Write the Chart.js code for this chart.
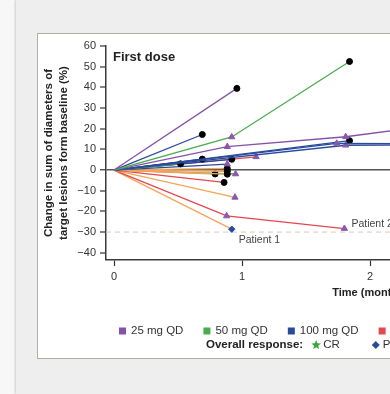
<!DOCTYPE html>
<html>
<head>
<meta charset="utf-8">
<script src="https://cdn.jsdelivr.net/npm/chart.js@4.4.1/dist/chart.umd.min.js"></script>
<style>
  html, body { margin: 0; padding: 0; width: 390px; height: 394px; overflow: hidden; background: #f7f7f7; }
  #backdrop { position: absolute; left: 16px; top: 0; width: 600px; height: 394px; background: #eeeeee; box-shadow: -1px 0 2px rgba(0,0,0,.18); }
  #panel { position: absolute; left: 37px; top: 33px; width: 700px; height: 324px; background: #fff; border: 1.5px solid #b3aea6; }
  #chart { position: absolute; left: 0; top: 0; }
</style>
</head>
<body>
<div id="backdrop"></div>
<div id="panel"></div>
<canvas id="chart" width="700" height="394"></canvas>
<script>
// ------- Data ---------------------------------------------------------------

const DOSE_LABELS = ['25 mg QD', '50 mg QD', '100 mg QD', '200 mg QD', '400 mg QD'];
const RESPONSES   = ['CR', 'PR', 'SD', 'PD'];

// one entry per patient: dose index, visit times (months), % change, response at each visit
const patientDose = [0, 1, 2, 0, 2, 2, 2, 1, 2, 2, 3, 2, 4, 4, 4, 4, 1, 3, 4, 3, 4];
const patientMonths = [
  [0, 0.96], [0, 0.92, 1.84], [0, 0.69], [0, 0.885, 1.81, 2.77],
  [0, 1.74, 2.75], [0, 1.81, 2.75], [0, 1.84], [0, 0.52],
  [0, 0.69], [0, 0.92], [0, 1.11], [0, 0.885],
  [0, 0.885], [0, 0.885], [0, 0.885], [0, 0.79],
  [0, 0.95], [0, 0.86], [0, 0.945], [0, 0.88, 1.80], [0, 0.92]
];
const patientChange = [
  [0, 39.5], [0, 16.0, 52.5], [0, 17.2], [0, 11.3, 16.1, 23.9],
  [0, 12.9, 12.6], [0, 12.0, 12.3], [0, 14.2], [0, 3.0],
  [0, 5.3], [0, 5.2], [0, 6.4], [0, 2.9],
  [0, 0.8], [0, -0.6], [0, -2.0], [0, -1.9],
  [0, -1.9], [0, -6.0], [0, -13.2], [0, -22.2, -28.3], [0, -28.6]
];
const patientResponse = [
  ['', 'PD'], ['', 'SD', 'PD'], ['', 'PD'], ['', 'SD', 'SD', 'SD'],
  ['', 'SD', 'SD'], ['', 'SD', 'SD'], ['', 'PD'], ['', 'PD'],
  ['', 'PD'], ['', 'PD'], ['', 'SD'], ['', 'SD'],
  ['', 'PD'], ['', 'PD'], ['', 'PD'], ['', 'PD'],
  ['', 'SD'], ['', 'PD'], ['', 'SD'], ['', 'SD', 'SD'], ['', 'PR']
];
const patientNote = ['', '', '', '', '', '', '', '', '', '', '', '', '', '', '', '', '', '', '', 'Patient 2', 'Patient 1'];

const X_TICKS = [0, 1, 2, 3, 4];
const Y_TICKS = [-40, -30, -20, -10, 0, 10, 20, 30, 40, 50, 60];
const THRESHOLD = -30;

const Y_TITLE = ['Change in sum of diameters of', 'target lesions form baseline (%)'];
const X_TITLE = 'Time (months)';
const FIRST_DOSE = 'First dose';
const RESPONSE_TITLE = 'Overall response:';

// ------- Styles -------------------------------------------------------------

const FONT = '"Liberation Sans", Arial, Helvetica, sans-serif';
const DOSE_COLORS = ['#8652a9', '#48ad4a', '#2a4a9c', '#e4474e', '#f2a458'];
const MARK = {
  CR: { style: 'star',     color: '#3aa53a', r: 4.5 },
  PR: { style: 'rectRot',  color: '#2a4a9c', r: 3.2 },
  SD: { style: 'triangle', color: '#8a58ad', r: 3.6 },
  PD: { style: 'circle',   color: '#000000', r: 3.0 }
};
const NOTE_OFFSET = { 'Patient 1': [7, 11], 'Patient 2': [7, -4] };

Chart.defaults.font.family = FONT;
Chart.defaults.color = '#333';

// ------- Datasets -----------------------------------------------------------

const datasets = patientMonths.map((months, i) => {
  const marks = patientResponse[i];
  const col = r => (r ? MARK[r].color : 'rgba(0,0,0,0)');
  return {
    data: months.map((m, j) => ({ x: m, y: patientChange[i][j] })),
    showLine: true,
    borderColor: DOSE_COLORS[patientDose[i]],
    borderWidth: 1.3,
    pointStyle: marks.map(r => (r ? MARK[r].style : 'circle')),
    pointRadius: marks.map(r => (r ? MARK[r].r : 0)),
    pointBackgroundColor: marks.map(col),
    pointBorderColor: marks.map(col),
    pointBorderWidth: 1,
    order: 0
  };
});

datasets.push({
  data: [{ x: -0.0625, y: THRESHOLD }, { x: 4.0625, y: THRESHOLD }],
  showLine: true,
  borderColor: '#d9c8ba',
  borderWidth: 1,
  borderDash: [5, 4],
  pointRadius: 0,
  order: 1
});

// ------- Text, legend -------------------------------------------------------

function drawMark (ctx, type, cx, cy) {
  const m = MARK[type];
  ctx.fillStyle = m.color;
  ctx.beginPath();
  if (type === 'CR') {
    for (let k = 0; k < 10; k++) {
      const a = -Math.PI / 2 + k * Math.PI / 5;
      const rr = k % 2 ? 2.2 : 5;
      ctx.lineTo(cx + rr * Math.cos(a), cy + rr * Math.sin(a));
    }
  } else if (type === 'PR') {
    ctx.moveTo(cx, cy - 4); ctx.lineTo(cx + 4, cy); ctx.lineTo(cx, cy + 4); ctx.lineTo(cx - 4, cy);
  } else if (type === 'SD') {
    ctx.moveTo(cx, cy - 4); ctx.lineTo(cx + 4.2, cy + 3); ctx.lineTo(cx - 4.2, cy + 3);
  } else {
    ctx.arc(cx, cy, 3.5, 0, Math.PI * 2);
  }
  ctx.closePath();
  ctx.fill();
}

const overlay = {
  id: 'overlay',
  afterDraw (chart) {
    const { ctx, chartArea, scales: { x, y } } = chart;
    ctx.save();
    ctx.textAlign = 'left';
    ctx.textBaseline = 'middle';

    ctx.font = `bold 13px ${FONT}`;
    ctx.fillStyle = '#222';
    ctx.fillText(FIRST_DOSE, x.getPixelForValue(0) - 1, chartArea.top + 11);

    ctx.font = `10.5px ${FONT}`;
    ctx.fillStyle = '#444';
    patientNote.forEach((note, i) => {
      if (!note) return;
      const last = patientMonths[i].length - 1;
      const [dx, dy] = NOTE_OFFSET[note];
      ctx.fillText(note,
        x.getPixelForValue(patientMonths[i][last]) + dx,
        y.getPixelForValue(patientChange[i][last]) + dy);
    });

    // dose legend
    const row1 = chartArea.bottom + 71;
    let lx = chartArea.left + 13;
    ctx.font = `11.5px ${FONT}`;
    DOSE_LABELS.forEach((lab, i) => {
      ctx.fillStyle = DOSE_COLORS[i];
      ctx.fillRect(lx, row1 - 3.5, 7, 7);
      ctx.fillStyle = '#333';
      ctx.fillText(lab, lx + 12, row1);
      lx += 12 + ctx.measureText(lab).width + 20;
    });

    // response legend
    const row2 = row1 + 14;
    ctx.font = `bold 11.5px ${FONT}`;
    ctx.fillStyle = '#222';
    let rx = chartArea.left + 100;
    ctx.fillText(RESPONSE_TITLE, rx, row2);
    rx += ctx.measureText(RESPONSE_TITLE).width + 13;
    ctx.font = `11.5px ${FONT}`;
    RESPONSES.forEach(r => {
      drawMark(ctx, r, rx, row2);
      ctx.fillStyle = '#333';
      ctx.fillText(r, rx + 7, row2);
      rx += 7 + ctx.measureText(r).width + 36;
    });
    ctx.restore();
  }
};

// ------- Chart --------------------------------------------------------------

new Chart(document.getElementById('chart'), {
  type: 'scatter',
  data: { datasets },
  options: {
    responsive: false,
    animation: false,
    devicePixelRatio: 1,
    events: [],
    layout: { padding: { left: 0, top: 46, right: 66, bottom: 94 } },
    plugins: { legend: { display: false }, tooltip: { enabled: false } },
    scales: {
      x: {
        type: 'linear',
        min: -0.0625,
        max: 4.0625,
        afterBuildTicks: s => { s.ticks = X_TICKS.map(v => ({ value: v })); },
        afterFit: s => { s.height = 40; },
        grid: { drawOnChartArea: false, drawTicks: true, tickLength: 6, tickWidth: 1.2, tickColor: '#333', color: '#333' },
        border: { display: true, color: '#3a3a3a', width: 1.5 },
        ticks: { padding: 4, maxRotation: 0, color: '#333', font: { size: 11 } },
        title: { display: true, text: X_TITLE, color: '#222', padding: 0, font: { size: 11, weight: 'bold' } }
      },
      y: {
        type: 'linear',
        min: -43.5,
        max: 60,
        afterBuildTicks: s => { s.ticks = Y_TICKS.map(v => ({ value: v })); },
        afterFit: s => { s.width = 106; },
        grid: {
          drawOnChartArea: true,
          drawTicks: true,
          tickLength: 6,
          tickWidth: 1.2,
          tickColor: '#333',
          color: c => (c.tick && c.tick.value === 0 ? '#555' : 'rgba(0,0,0,0)'),
          lineWidth: c => (c.tick && c.tick.value === 0 ? 1.5 : 0)
        },
        border: { display: true, color: '#3a3a3a', width: 1.5 },
        ticks: {
          padding: 4,
          color: '#333',
          font: { size: 11 },
          callback: v => (v < 0 ? '\u2212' + Math.abs(v) : String(v))
        },
        title: {
          display: true,
          text: Y_TITLE,
          color: '#222',
          padding: { top: 41.5, bottom: 0 },
          font: { size: 11.5, weight: 'bold', lineHeight: 1.3 }
        }
      }
    }
  },
  plugins: [overlay]
});
</script>
</body>
</html>
